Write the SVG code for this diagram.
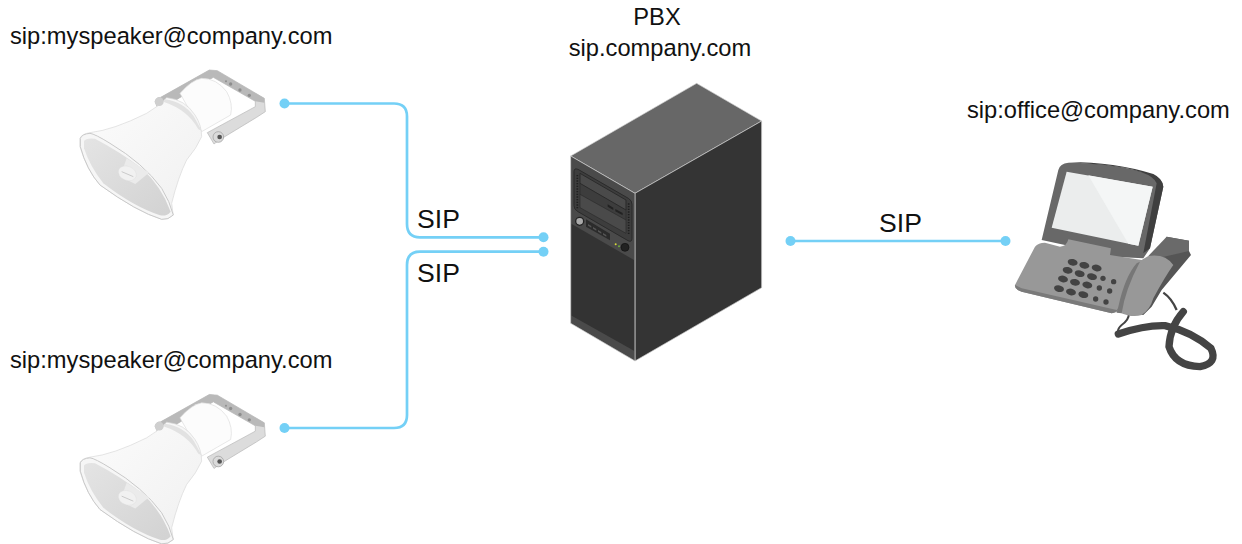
<svg xmlns="http://www.w3.org/2000/svg" width="1242" height="544" viewBox="0 0 1242 544">
<style>
text{font-family:"Liberation Sans",Arial,sans-serif;fill:#111}
.lab{font-size:23.7px}
.sip{font-size:26.6px}
.wire{fill:none;stroke:#74d0f6;stroke-width:2.7}
.dot{fill:#74d0f6}
.rim{fill:#f6f6f6;stroke:#c9c9c9;stroke-width:3}
</style>
<defs>
<linearGradient id="mouth" x1="0" y1="0" x2="1" y2="1"><stop offset="0" stop-color="#e4e4e4"/><stop offset="1" stop-color="#d2d2d2"/></linearGradient>
<linearGradient id="hornG" x1="0" y1="0" x2="1" y2="1"><stop offset="0" stop-color="#fcfcfc"/><stop offset="1" stop-color="#f0f0f0"/></linearGradient>
<g id="speaker">
<path d="M255 125Q258 112 272 112L418 30L442 32L583 115L586 155L560 172L448 240L432 252L412 218L556 140L556 124L430 52L285 140L262 142Z" fill="#dcdcdc" stroke="#b5b5b5" stroke-width="2"/>
<path d="M272 112L418 30L442 32L583 115V128L556 124L430 52L285 140Z" fill="#b9b9b9"/>
<g fill="#8e8e8e"><circle cx="482" cy="72" r="5"/><circle cx="510" cy="90" r="5"/><circle cx="538" cy="106" r="5"/><circle cx="468" cy="64" r="3"/></g>
<path d="M330 100Q365 60 395 55Q440 55 470 95Q490 130 482 165L395 215Z" fill="#fcfcfc" stroke="#dcdcdc" stroke-width="2"/>
<path d="M30 235Q35 222 60 218Q130 210 230 160Q265 140 290 113Q345 118 375 165Q395 195 395 230Q380 265 350 300Q325 350 305 430Q308 455 310 465Q295 480 275 478Q200 455 90 375Q50 330 30 260Z" fill="url(#hornG)" stroke="#d8d8d8" stroke-width="2"/>
<path d="M285 118Q340 125 372 170L395 212L385 208Q355 150 280 125Z" fill="#e2e2e2"/>
<path d="M31 235Q36 222 60 220Q75 222 120 250Q220 310 275 385Q300 425 310 465Q295 480 275 478Q200 455 90 375Q50 330 31 260Z" class="rim"/>
<path d="M42 243Q48 233 75 236Q150 275 215 325Q275 380 302 455Q290 470 270 466Q190 440 100 370Q60 320 42 265Z" fill="url(#mouth)"/>
<path d="M170 295L237 338L196 372L150 350Z" fill="#ebebeb"/>
<ellipse cx="172" cy="340" rx="28" ry="21" transform="rotate(22 172 340)" fill="#f1f1f1" stroke="#dcdcdc"/>
<path d="M155 335L190 350" stroke="#b5b5b5" stroke-width="2"/>
<circle cx="445" cy="231" r="16" fill="#dadada" stroke="#999" stroke-width="2"/>
<circle cx="449" cy="231" r="7" fill="#555"/>
<circle cx="268" cy="125" r="13" fill="#cfcfcf"/>
</g>
</defs>
<g id="connectors">
<path class="wire" d="M284 103.500H394Q407 103.500 407 116.500V224Q407 237.300 420 237.300H543"/>
<path class="wire" d="M284 428H394Q407 428 407 415V265Q407 251.700 420 251.700H543"/>
<path class="wire" d="M790 241H1005"/>
<g class="dot"><circle cx="284.500" cy="103.500" r="5"/><circle cx="543.500" cy="237.300" r="5"/><circle cx="284.500" cy="428" r="5"/><circle cx="543.500" cy="251.700" r="5"/><circle cx="790.500" cy="241" r="5"/><circle cx="1005.500" cy="241" r="5"/></g>
</g>
<text class="sip" x="417" y="227.500">SIP</text>
<text class="sip" x="417" y="281.500">SIP</text>
<text class="sip" x="879" y="231.500">SIP</text>
<g id="speaker-top">
<text class="lab" x="10" y="44">sip:myspeaker@company.com</text>
<use href="#speaker" transform="translate(70 60) scale(.3333)"/>
</g>
<g id="speaker-bottom">
<text class="lab" x="10" y="368">sip:myspeaker@company.com</text>
<use href="#speaker" transform="translate(70 384.500) scale(.3333)"/>
</g>
<g id="pbx">
<text class="lab" x="657" y="25" text-anchor="middle">PBX</text>
<text class="lab" x="660" y="56" text-anchor="middle">sip.company.com</text>
<g transform="translate(560 75) scale(.3333)">
<path d="M410 25L605 138L225 355L32 243Z" fill="#676767" stroke="#d5d5d5" stroke-width="2"/>
<path d="M605 138V638L225 858V355Z" fill="#343434" stroke="#cfcfcf" stroke-width="2"/>
<path d="M32 243L225 355V858L32 745Z" fill="#4a4a4a" stroke="#cfcfcf" stroke-width="2"/>
<path d="M35 447L222 555V827L35 722Z" fill="#333"/>
<path d="M42 290Q42 278 54 283L205 370Q216 376 216 388V490Q216 503 204 497L54 410Q42 404 42 392Z" fill="#3d3d3d" stroke="#2a2a2a" stroke-width="3"/>
<path d="M60 295L198 375V405L60 325Z" fill="#4a4a4a" stroke="#2a2a2a" stroke-width="3"/>
<path d="M60 358L198 435V475L60 398Z" fill="#4a4a4a" stroke="#2a2a2a" stroke-width="2"/>
<path d="M60 325V358M198 405V435" stroke="#2a2a2a" stroke-width="2"/>
<path d="M52 300V400M206 385V480" stroke="#1f1f1f" stroke-width="5" stroke-dasharray="4 4"/>
<path d="M143 388L160 398V405L143 395ZM166 402L188 414V421L166 409Z" fill="#222"/>
<circle cx="59" cy="439" r="12" fill="#aaa" stroke="#222" stroke-width="4"/>
<path d="M78 433L150 476V496L78 455Z" fill="#2b2b2b"/>
<path d="M84 447L94 453V458L84 452ZM99 456L109 462V467L99 461ZM114 465L124 471V476L114 470ZM129 474L139 480V485L129 479Z" fill="#555"/>
<circle cx="167" cy="508" r="3" fill="#d8d83a"/><circle cx="177" cy="514" r="3" fill="#6fb03a"/>
<circle cx="195" cy="517" r="12" fill="#222" stroke="#111" stroke-width="2"/>
</g>
</g>
<g id="phone">
<text class="lab" x="967" y="118">sip:office@company.com</text>
<g transform="translate(1005 150) scale(.3333)">
<path d="M475 428Q500 445 515 480" fill="none" stroke="#444" stroke-width="7"/>
<path d="M372 490Q372 510 350 525Q338 535 338 548" fill="none" stroke="#444" stroke-width="6"/>
<path d="M340 552Q420 525 480 527Q560 545 618 595Q640 640 585 650Q510 648 492 590Q495 530 535 485" fill="none" stroke="#444" stroke-width="22" stroke-linecap="round" stroke-linejoin="round"/>
<path d="M470 300L485 260L552 272V303L558 315L470 420L440 470L415 495L380 490Z" fill="#555"/>
<path d="M485 260L552 272V303L470 322L430 318Z" fill="#6a6a6a"/>
<path d="M110 270L160 60Q165 40 190 38Q330 38 445 75Q472 85 475 110L435 295L415 325L320 320L180 285Z" fill="#686868"/>
<path d="M435 295L475 110Q472 85 445 72Q330 36 190 36L300 45Q440 60 455 100L415 310Z" fill="#3f3f3f"/>
<path d="M185 65L443 110L400 287L140 233Z" fill="#ebeded"/>
<path d="M250 76L443 110L400 287L370 281Z" fill="#f4f6f6"/>
<path d="M30 405L90 290Q100 278 120 278L165 290Q185 290 190 268L318 295L315 315L410 330L430 318Q480 310 505 345Q480 380 445 445Q435 480 410 495Q380 505 340 485L320 490L50 425Q28 418 30 405Z" fill="#989898"/>
<path d="M30 405Q28 418 50 425L320 490Q335 488 345 470L335 480L50 415Z" fill="#7a7a7a"/>
<path d="M395 340Q360 380 340 470L335 488L350 490Q360 420 405 335Z" fill="#777"/>
<g fill="#434343"><ellipse cx="203" cy="337" rx="15" ry="10" transform="rotate(12 203 337)"/><ellipse cx="238" cy="346" rx="15" ry="10" transform="rotate(12 238 346)"/><ellipse cx="275" cy="354" rx="15" ry="10" transform="rotate(12 275 354)"/><ellipse cx="188" cy="361" rx="15" ry="10" transform="rotate(12 188 361)"/><ellipse cx="224" cy="371" rx="15" ry="10" transform="rotate(12 224 371)"/><ellipse cx="261" cy="380" rx="15" ry="10" transform="rotate(12 261 380)"/><ellipse cx="174" cy="387" rx="15" ry="10" transform="rotate(12 174 387)"/><ellipse cx="210" cy="397" rx="15" ry="10" transform="rotate(12 210 397)"/><ellipse cx="247" cy="405" rx="15" ry="10" transform="rotate(12 247 405)"/><ellipse cx="162" cy="416" rx="15" ry="10" transform="rotate(12 162 416)"/><ellipse cx="198" cy="426" rx="15" ry="10" transform="rotate(12 198 426)"/><ellipse cx="235" cy="434" rx="15" ry="10" transform="rotate(12 235 434)"/><circle cx="294" cy="385" r="8"/><circle cx="326" cy="395" r="8"/><circle cx="283" cy="414" r="8"/><circle cx="314" cy="423" r="8"/><circle cx="272" cy="447" r="8"/><circle cx="303" cy="456" r="8"/></g>
</g>
</g>
</svg>
